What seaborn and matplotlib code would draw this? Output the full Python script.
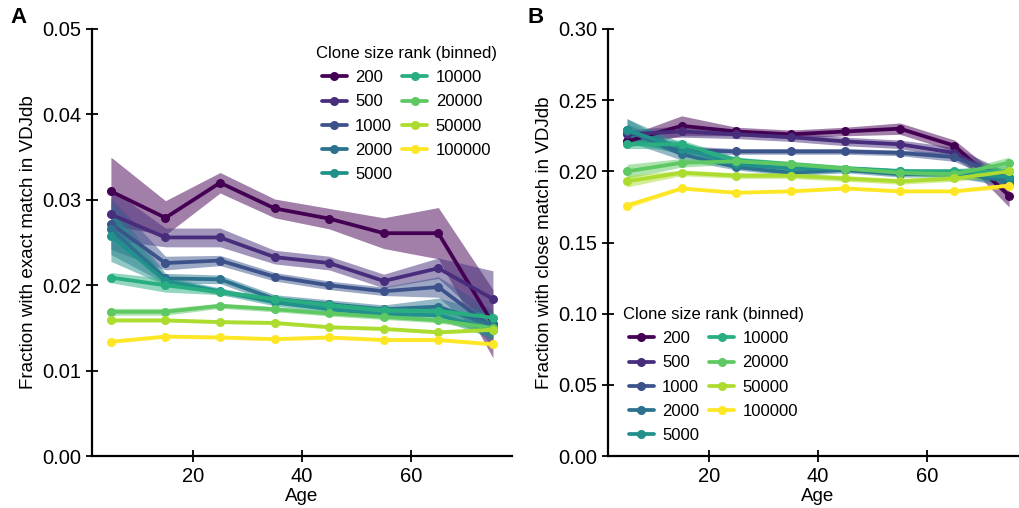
import numpy as np
import pandas as pd
import seaborn as sns
import matplotlib
matplotlib.use("Agg")
import matplotlib.pyplot as plt

ages = [5, 15, 25, 35, 45, 55, 65, 75]
ranks = ["200", "500", "1000", "2000", "5000", "10000", "20000", "50000", "100000"]

# Panel A: fraction with exact match (mean)
exact_mean = {
    "200":    [0.0310, 0.0279, 0.0320, 0.0290, 0.0278, 0.0261, 0.0261, 0.0155],
    "500":    [0.0283, 0.0256, 0.0256, 0.0233, 0.0226, 0.0205, 0.0220, 0.0184],
    "1000":   [0.0272, 0.0226, 0.0229, 0.0210, 0.0200, 0.0193, 0.0198, 0.0150],
    "2000":   [0.0266, 0.0208, 0.0207, 0.0184, 0.0178, 0.0172, 0.0175, 0.0153],
    "5000":   [0.0258, 0.0205, 0.0193, 0.0180, 0.0172, 0.0166, 0.0165, 0.0148],
    "10000":  [0.0209, 0.0200, 0.0192, 0.0184, 0.0177, 0.0171, 0.0170, 0.0162],
    "20000":  [0.0169, 0.0169, 0.0176, 0.0172, 0.0167, 0.0163, 0.0159, 0.0150],
    "50000":  [0.0159, 0.0159, 0.0157, 0.0156, 0.0151, 0.0149, 0.0145, 0.0148],
    "100000": [0.0134, 0.0140, 0.0139, 0.0137, 0.0139, 0.0136, 0.0136, 0.0131],
}
# Panel A: half-width of the confidence band
exact_err = {
    "200":    [0.0040, 0.0020, 0.0012, 0.0011, 0.0012, 0.0018, 0.0030, 0.0040],
    "500":    [0.0030, 0.0011, 0.0011, 0.0008, 0.0008, 0.0008, 0.0012, 0.0033],
    "1000":   [0.0030, 0.0008, 0.0006, 0.0005, 0.0005, 0.0005, 0.0012, 0.0020],
    "2000":   [0.0030, 0.0006, 0.0005, 0.0005, 0.0005, 0.0005, 0.0010, 0.0015],
    "5000":   [0.0030, 0.0005, 0.0004, 0.0004, 0.0004, 0.0004, 0.0005, 0.0010],
    "10000":  [0.0006, 0.0008, 0.0003, 0.0003, 0.0003, 0.0003, 0.0003, 0.0005],
    "20000":  [0.0004, 0.0004, 0.0003, 0.0003, 0.0003, 0.0003, 0.0003, 0.0004],
    "50000":  [0.0002, 0.0002, 0.0002, 0.0002, 0.0002, 0.0002, 0.0002, 0.0002],
    "100000": [0.0002, 0.0002, 0.0002, 0.0002, 0.0002, 0.0002, 0.0002, 0.0002],
}
# Panel B: fraction with close match (mean)
close_mean = {
    "200":    [0.221, 0.232, 0.228, 0.226, 0.228, 0.230, 0.218, 0.183],
    "500":    [0.226, 0.228, 0.226, 0.224, 0.221, 0.219, 0.213, 0.192],
    "1000":   [0.228, 0.215, 0.214, 0.214, 0.214, 0.213, 0.210, 0.195],
    "2000":   [0.229, 0.212, 0.203, 0.199, 0.201, 0.198, 0.199, 0.193],
    "5000":   [0.229, 0.216, 0.205, 0.202, 0.202, 0.200, 0.198, 0.196],
    "10000":  [0.219, 0.219, 0.208, 0.205, 0.202, 0.200, 0.200, 0.200],
    "20000":  [0.200, 0.206, 0.207, 0.205, 0.202, 0.199, 0.198, 0.206],
    "50000":  [0.193, 0.199, 0.197, 0.197, 0.195, 0.193, 0.195, 0.200],
    "100000": [0.176, 0.188, 0.185, 0.186, 0.188, 0.186, 0.186, 0.190],
}
close_err = {
    "200":    [0.004, 0.007, 0.003, 0.003, 0.003, 0.004, 0.004, 0.008],
    "500":    [0.003, 0.004, 0.003, 0.003, 0.003, 0.003, 0.004, 0.007],
    "1000":   [0.005, 0.003, 0.002, 0.002, 0.002, 0.002, 0.003, 0.005],
    "2000":   [0.008, 0.004, 0.002, 0.002, 0.002, 0.002, 0.003, 0.004],
    "5000":   [0.008, 0.004, 0.002, 0.002, 0.002, 0.002, 0.003, 0.004],
    "10000":  [0.003, 0.003, 0.002, 0.002, 0.002, 0.002, 0.002, 0.004],
    "20000":  [0.005, 0.003, 0.002, 0.002, 0.002, 0.002, 0.002, 0.004],
    "50000":  [0.004, 0.002, 0.002, 0.002, 0.002, 0.002, 0.002, 0.003],
    "100000": [0.002, 0.001, 0.001, 0.001, 0.001, 0.001, 0.001, 0.002],
}

sns.set_style("ticks")
plt.rcParams["font.family"] = ["Liberation Sans", "DejaVu Sans"]
for k in ["text.color", "axes.labelcolor", "xtick.color", "ytick.color", "axes.edgecolor"]:
    plt.rcParams[k] = "black"

cmap = matplotlib.colormaps["viridis"]
palette = {r: cmap(v) for r, v in zip(ranks, np.linspace(0, 1, len(ranks)))}


def to_long(means):
    rows = []
    for r in ranks:
        for a, v in zip(ages, means[r]):
            rows.append({"Age": a, "rank": r, "value": v})
    return pd.DataFrame(rows)


fig = plt.figure(figsize=(10.2, 5.08), dpi=100)
axA = fig.add_axes([0.090, 0.102, 0.412, 0.841])
axB = fig.add_axes([0.596, 0.102, 0.412, 0.841])

panels = [
    (axA, exact_mean, exact_err, "Fraction with exact match in VDJdb", (0, 0.05),
     np.arange(0, 0.051, 0.01), dict(loc="upper right", bbox_to_anchor=(1.0, 0.995))),
    (axB, close_mean, close_err, "Fraction with close match in VDJdb", (0, 0.30),
     np.arange(0, 0.301, 0.05), dict(loc="upper left", bbox_to_anchor=(0.0, 0.384))),
]

for ax, means, errs, ylabel, ylim, yticks, legkw in panels:
    df = to_long(means)
    for r in ranks:
        m = np.array(means[r])
        e = np.array(errs[r])
        ax.fill_between(ages, m - e, m + e, color=palette[r], alpha=0.5, linewidth=0)
    sns.lineplot(data=df, x="Age", y="value", hue="rank", hue_order=ranks,
                 palette=palette, marker="o", markersize=6.5, markeredgewidth=0,
                 linewidth=2.7, errorbar=None, ax=ax)
    ax.set_ylim(*ylim)
    ax.set_yticks(yticks)
    ax.set_yticklabels(["{:.2f}".format(t) for t in yticks])
    ax.set_xticks([20, 40, 60])
    ax.set_xlim(1.5, 78.5)
    ax.set_xlabel("Age", fontsize=13.5, labelpad=2)
    ax.set_ylabel(ylabel, fontsize=13.5)
    ax.tick_params(direction="inout", length=9, width=1.3, labelsize=14.5, pad=3)
    for s in ["left", "bottom"]:
        ax.spines[s].set_linewidth(1.6)
    sns.despine(ax=ax)
    handles, labels = ax.get_legend_handles_labels()
    ax.legend(handles, labels, title="Clone size rank (binned)", ncol=2,
              frameon=False, fontsize=12, title_fontsize=12, handlelength=1.5,
              columnspacing=0.6, handletextpad=0.5, labelspacing=0.55, **legkw)

fig.text(0.010, 0.955, "A", fontsize=16, fontweight="bold")
fig.text(0.517, 0.955, "B", fontsize=16, fontweight="bold")

fig.savefig("out.png", dpi=100)
